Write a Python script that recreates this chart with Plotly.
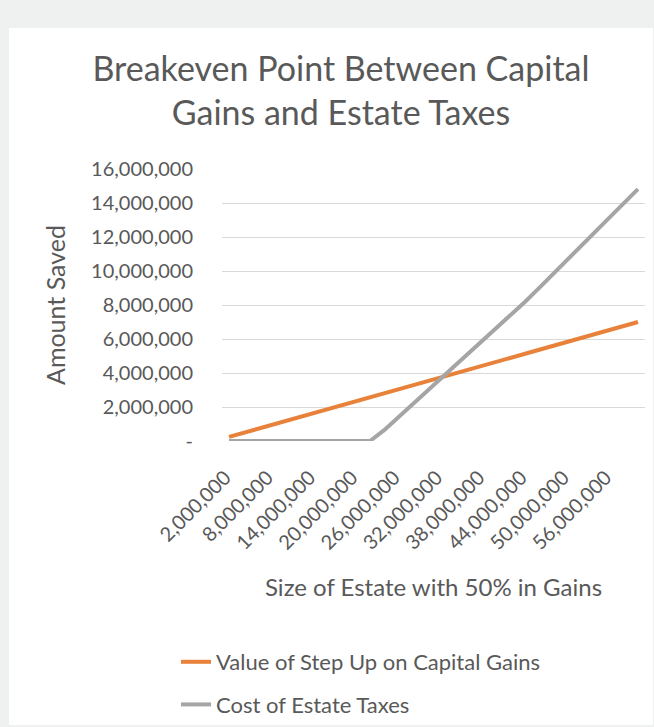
import plotly.graph_objects as go

# ---- data ----
estate_size = [2000000, 4000000, 6000000, 8000000, 10000000, 12000000, 14000000, 16000000,
               18000000, 20000000, 22000000, 24000000, 26000000, 28000000, 30000000, 32000000,
               34000000, 36000000, 38000000, 40000000, 42000000, 44000000, 46000000, 48000000,
               50000000, 52000000, 54000000, 56000000, 58000000, 60000000]

step_up_value = [240000, 470000, 700000, 940000, 1170000, 1400000, 1640000, 1870000,
                 2100000, 2330000, 2570000, 2800000, 3030000, 3270000, 3500000, 3730000,
                 3970000, 4200000, 4430000, 4670000, 4900000, 5130000, 5370000, 5600000,
                 5830000, 6070000, 6300000, 6530000, 6770000, 7000000]

estate_tax_cost = [0, 0, 0, 0, 0, 0, 0, 0,
                   0, 0, 0, 640000, 1390000, 2140000, 2890000, 3670000,
                   4420000, 5180000, 5930000, 6680000, 7440000, 8190000, 9010000, 9840000,
                   10670000, 11500000, 12330000, 13160000, 13990000, 14820000]

x_tick_values = [2000000, 8000000, 14000000, 20000000, 26000000,
                 32000000, 38000000, 44000000, 50000000, 56000000]
y_tick_values = [0, 2000000, 4000000, 6000000, 8000000, 10000000, 12000000, 14000000, 16000000]
y_tick_labels = ["-", "2,000,000", "4,000,000", "6,000,000", "8,000,000",
                 "10,000,000", "12,000,000", "14,000,000", "16,000,000"]

series_names = ["Value of Step Up on Capital Gains", "Cost of Estate Taxes"]

# ---- style ----
FONT = "Lato"
TEXT = "#595959"
ORANGE = "#E8823A"
GRAY = "#A5A5A5"
GRID = "#D9D9D9"

W, H = 654, 727
ML, MR, MT, MB = 222, 9, 169, 286
pw, ph = W - ML - MR, H - MT - MB

fig = go.Figure()
fig.add_trace(go.Scatter(x=estate_size, y=step_up_value, mode="lines",
                         name=series_names[0], legendgroup="a",
                         line=dict(color=ORANGE, width=4)))
fig.add_trace(go.Scatter(x=estate_size, y=estate_tax_cost, mode="lines",
                         name=series_names[1], legendgroup="b",
                         line=dict(color=GRAY, width=4)))

# white chart panel on a light gray page
fig.add_shape(type="rect", xref="paper", yref="paper", layer="below",
              x0=(9 - ML) / pw, x1=(653 - ML) / pw,
              y0=(H - MB - 725) / ph, y1=(H - MB - 28) / ph,
              fillcolor="white", line=dict(width=0))

fig.update_layout(
    width=W, height=H,
    margin=dict(l=ML, r=MR, t=MT, b=MB, autoexpand=False),
    paper_bgcolor="#EFF1F0",
    plot_bgcolor="white",
    font=dict(family=FONT, color=TEXT, size=20),
    title=dict(text="Breakeven Point Between Capital<br>Gains and Estate Taxes",
               x=341 / W, xref="container", xanchor="center",
               y=1 - 81 / H, yref="container", yanchor="top",
               font=dict(family=FONT, size=34, color=TEXT)),
    showlegend=True,
    legend=dict(orientation="v", x=(176 - ML) / pw, xanchor="left",
                y=(H - MB - 641) / ph, yanchor="top",
                bgcolor="rgba(0,0,0,0)", tracegroupgap=11,
                font=dict(family=FONT, size=22, color=TEXT)),
)

fig.update_xaxes(range=[1000000, 61000000], tickvals=x_tick_values, automargin=False,
                 tickformat=",", tickangle=-45, showgrid=False, zeroline=False,
                 showline=False, ticks="", ticklabelstandoff=20, ticklabelshift=-4,
                 tickfont=dict(family=FONT, size=20, color=TEXT),
                 title=dict(text="Size of Estate with 50% in Gains", standoff=26,
                            font=dict(family=FONT, size=24, color=TEXT)))
fig.update_yaxes(range=[0, 16000000], tickvals=y_tick_values, ticktext=y_tick_labels,
                 automargin=False,
                 showgrid=True, gridcolor=GRID, gridwidth=1, zeroline=False,
                 showline=False, ticks="", ticklabelstandoff=28,
                 tickfont=dict(family=FONT, size=20, color=TEXT),
                 title=dict(text="Amount Saved", standoff=18,
                            font=dict(family=FONT, size=25, color=TEXT)))

fig.write_html("out.html")
